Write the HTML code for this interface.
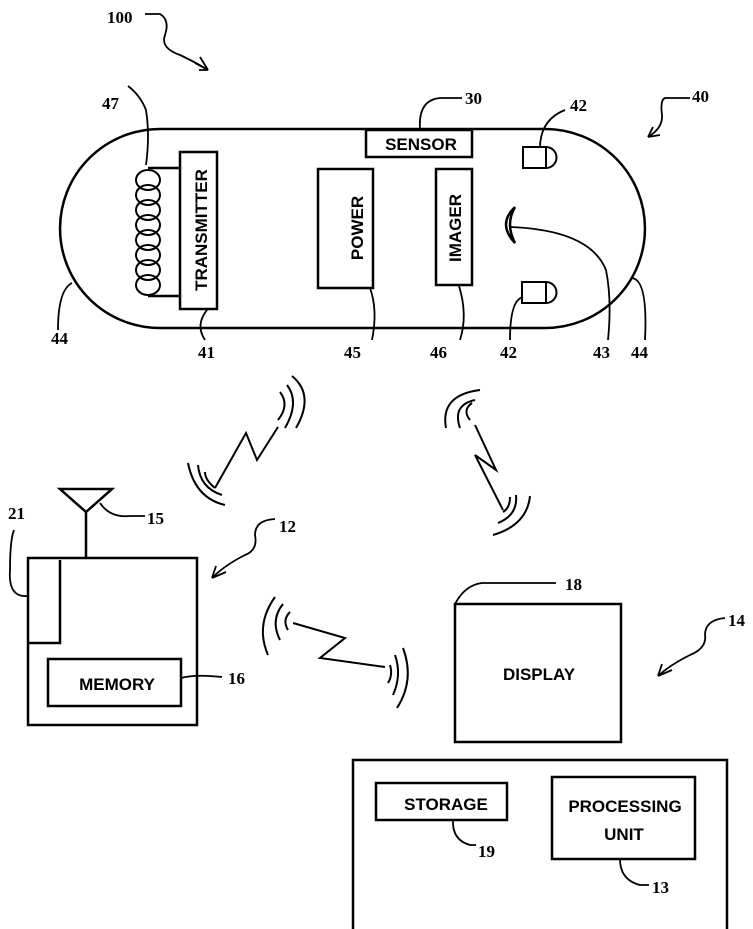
<!DOCTYPE html>
<html><head><meta charset="utf-8"><style>
html,body{margin:0;padding:0;background:#fff}
svg{display:block}
text{font-family:"Liberation Sans",sans-serif;font-weight:bold;fill:#000}
.l{font-size:17px;font-family:"Liberation Serif",serif}
.b{font-size:17px}
</style></head><body>
<svg width="753" height="929" viewBox="0 0 753 929" xmlns="http://www.w3.org/2000/svg" fill="none" stroke="#000" stroke-width="2.5">
<path d="M160,129 H545 A100,99.5 0 0 1 545,328 H160 A100,99.5 0 0 1 160,129 Z"/>
<rect x="180" y="152" width="37" height="157"/>
<text class="b" transform="translate(207,230) rotate(-90)" text-anchor="middle" stroke="none">TRANSMITTER</text>
<path d="M180,168 H148 M180,296 H148"/>
<g stroke-width="2">
<ellipse cx="148" cy="180" rx="12" ry="10"/><ellipse cx="148" cy="195" rx="12" ry="10"/><ellipse cx="148" cy="210" rx="12" ry="10"/><ellipse cx="148" cy="225" rx="12" ry="10"/><ellipse cx="148" cy="240" rx="12" ry="10"/><ellipse cx="148" cy="255" rx="12" ry="10"/><ellipse cx="148" cy="270" rx="12" ry="10"/><ellipse cx="148" cy="285" rx="12" ry="10"/>
</g>
<rect x="366" y="130" width="106" height="27"/>
<text class="b" x="421" y="150" text-anchor="middle" stroke="none">SENSOR</text>
<rect x="318" y="169" width="55" height="119"/>
<text class="b" transform="translate(363,228) rotate(-90)" text-anchor="middle" stroke="none">POWER</text>
<rect x="436" y="169" width="36" height="116"/>
<text class="b" transform="translate(461,228) rotate(-90)" text-anchor="middle" stroke="none">IMAGER</text>
<path d="M523,147 H546 A10.5,10.5 0 0 1 546,168 H523 Z M546,147 V168" stroke-width="2"/>
<path d="M522,282 H546 A10.5,10.5 0 0 1 546,303 H522 Z M546,282 V303" stroke-width="2"/>
<path d="M515,207 Q497,224 515,243 Q505,224 515,207" stroke-width="2.5"/>
<g stroke-width="1.8">
<path d="M128,86 Q140,95 146,110 Q150,135 146,165"/>
<path d="M420,129 Q418,100 440,98 H462"/>
<path d="M540,148 Q540,120 565,110"/>
<path d="M207,310 Q195,325 205,340"/>
<path d="M370,288 Q378,310 372,340"/>
<path d="M459,286 Q468,315 460,340"/>
<path d="M523,297 Q510,300 510,340"/>
<path d="M510,227 Q590,230 606,270 Q612,300 608,340"/>
<path d="M632,278 Q648,280 645,340"/>
<path d="M72,283 Q58,290 58,330"/>
<path d="M145,14 H160 Q170,20 165,35 Q160,48 180,55 Q195,62 208,70"/>
<path d="M199,70 L208,70 L195,63 M208,70 L200,57"/>
<path d="M690,98 H665 Q660,100 662,115 Q663,128 648,137 M648,137 L660,135 M648,137 L653,127"/>
</g>
<g stroke="none">
<text class="l" x="107" y="23">100</text>
<text class="l" x="102" y="109">47</text>
<text class="l" x="465" y="104">30</text>
<text class="l" x="570" y="111">42</text>
<text class="l" x="692" y="102">40</text>
<text class="l" x="51" y="344">44</text>
<text class="l" x="198" y="358">41</text>
<text class="l" x="344" y="358">45</text>
<text class="l" x="430" y="358">46</text>
<text class="l" x="500" y="358">42</text>
<text class="l" x="593" y="358">43</text>
<text class="l" x="631" y="358">44</text>
</g>
<g stroke-width="2">
<path d="M278,427 L257,460 L246,433 L215,488"/>
<path d="M280,392 Q290,405 278,420"/>
<path d="M287,385 Q300,402 285,428"/>
<path d="M292,376 Q315,395 296,428"/>
<path d="M215,488 Q205,480 205,472"/>
<path d="M222,495 Q200,488 198,465"/>
<path d="M225,505 Q195,498 188,463"/>
</g>
<g stroke-width="2">
<path d="M475,425 L496,470 L475,455 L503,510"/>
<path d="M470,420 Q462,410 472,403"/>
<path d="M460,428 Q452,405 475,400"/>
<path d="M446,428 Q440,395 480,390"/>
<path d="M503,512 Q510,508 510,497"/>
<path d="M498,523 Q518,515 516,495"/>
<path d="M493,535 Q527,525 530,496"/>
</g>
<g stroke-width="2">
<path d="M293,623 L345,638 L320,658 L385,667"/>
<path d="M288,630 Q282,620 290,612"/>
<path d="M280,640 Q270,620 283,604"/>
<path d="M268,655 Q255,625 275,597"/>
<path d="M390,665 Q393,675 388,683"/>
<path d="M395,655 Q402,675 393,695"/>
<path d="M403,648 Q415,680 397,708"/>
</g>
<rect x="28" y="558" width="169" height="167"/>
<path d="M28,643 H60 V560"/>
<rect x="48" y="659" width="133" height="47"/>
<text class="b" x="117" y="690" text-anchor="middle" stroke="none">MEMORY</text>
<path d="M86,558 V512 M60,489 H112 L86,512 Z"/>
<g stroke-width="1.8">
<path d="M100,503 Q110,518 130,516 H145"/>
<path d="M28,596 Q8,598 10,570 Q10,540 14,530"/>
<path d="M181,678 Q195,674 222,677"/>
<path d="M275,519 Q255,520 255,535 Q258,550 245,555 Q225,565 212,578 M212,578 L216,566 M212,578 L226,572"/>
<path d="M455,604 Q465,585 482,583 H556"/>
<path d="M725,618 Q705,620 705,635 Q707,648 690,655 Q670,665 658,676 M658,676 L662,664 M658,676 L672,670"/>
<path d="M453,820 Q452,840 470,845 H476"/>
<path d="M620,859 Q620,880 640,885 H649"/>
</g>
<g stroke="none">
<text class="l" x="8" y="519">21</text>
<text class="l" x="147" y="524">15</text>
<text class="l" x="279" y="532">12</text>
<text class="l" x="228" y="684">16</text>
<text class="l" x="565" y="590">18</text>
<text class="l" x="728" y="626">14</text>
<text class="l" x="478" y="857">19</text>
<text class="l" x="652" y="893">13</text>
</g>
<rect x="455" y="604" width="166" height="138"/>
<text class="b" x="539" y="680" text-anchor="middle" stroke="none">DISPLAY</text>
<rect x="353" y="760" width="374" height="175"/>
<rect x="376" y="783" width="131" height="37"/>
<text class="b" x="446" y="810" text-anchor="middle" stroke="none">STORAGE</text>
<rect x="552" y="777" width="143" height="82"/>
<text class="b" x="625" y="812" text-anchor="middle" stroke="none">PROCESSING</text>
<text class="b" x="624" y="840" text-anchor="middle" stroke="none">UNIT</text>
</svg>
</body></html>
